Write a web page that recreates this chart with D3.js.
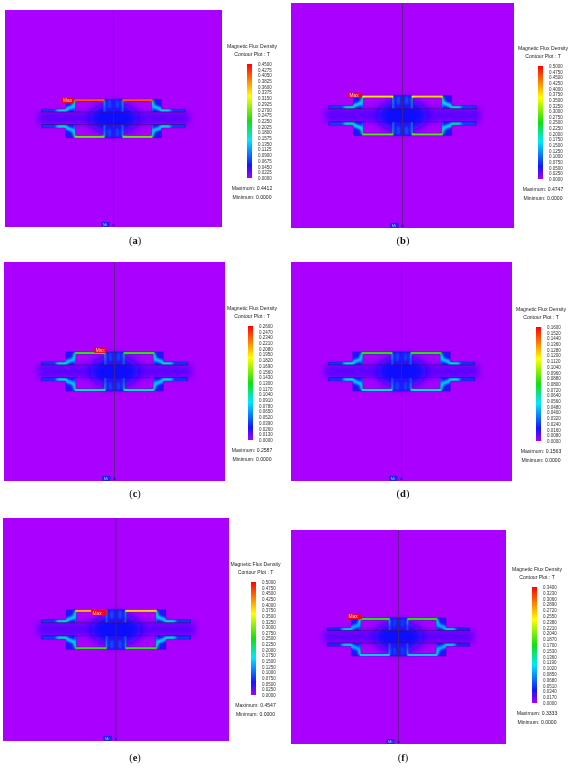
<!DOCTYPE html>
<html lang="en">
<head>
<meta charset="UTF-8">
<title>Magnetic Flux Density</title>
<script src="https://d3js.org/d3.v7.min.js"></script>
<style>
  html, body { margin: 0; padding: 0; background: #fff; }
  svg { display: block; filter: blur(0.3px); }
  text { font-family: "Liberation Sans", Arial, sans-serif; fill: #222; }
  .axis text { font-size: 4.5px; fill: #333; }
  .caption { font-family: "Liberation Serif", serif; font-size: 10.5px; fill: #111; }
</style>
</head>
<body>
<div id="chart"></div>
<script>
// ---- values ----
const panelNames = ["a", "b", "c", "d", "e", "f"];
const ticksA = [0.45, 0.4275, 0.405, 0.3825, 0.36, 0.3375, 0.315, 0.2925, 0.27, 0.2475, 0.225, 0.2025, 0.18, 0.1575, 0.135, 0.1125, 0.09, 0.0675, 0.045, 0.0225, 0];
const ticksB = [0.5, 0.475, 0.45, 0.425, 0.4, 0.375, 0.35, 0.325, 0.3, 0.275, 0.25, 0.225, 0.2, 0.175, 0.15, 0.125, 0.1, 0.075, 0.05, 0.025, 0];
const ticksC = [0.26, 0.247, 0.234, 0.221, 0.208, 0.195, 0.182, 0.169, 0.156, 0.143, 0.13, 0.117, 0.104, 0.091, 0.078, 0.065, 0.052, 0.039, 0.026, 0.013, 0];
const ticksD = [0.16, 0.152, 0.144, 0.136, 0.128, 0.12, 0.112, 0.104, 0.096, 0.088, 0.08, 0.072, 0.064, 0.056, 0.048, 0.04, 0.032, 0.024, 0.016, 0.008, 0];
const ticksE = ticksB;
const ticksF = [0.34, 0.323, 0.306, 0.289, 0.272, 0.255, 0.238, 0.221, 0.204, 0.187, 0.17, 0.153, 0.136, 0.119, 0.102, 0.085, 0.068, 0.051, 0.034, 0.017, 0];
const panelTicks = [ticksA, ticksB, ticksC, ticksD, ticksE, ticksF];
const maximums = [0.4412, 0.4747, 0.2587, 0.1563, 0.4547, 0.3333];
const minimums = [0, 0, 0, 0, 0, 0];

// flux in the core, tesla: left and right top bar, bottom bar, legs
const topLeftFlux = [0.41, 0.37, 0.14, 0.085, 0.40, 0.18];
const topRightFlux = [0.41, 0.38, 0.14, 0.085, 0.385, 0.18];
const bottomFlux = [0.26, 0.28, 0.095, 0.056, 0.26, 0.105];
const legFlux = [0.17, 0.20, 0.095, 0.058, 0.19, 0.115];

// colour map stops: fraction of the legend, colour
const mapStops = [0, 0.11, 0.33, 0.5, 0.72, 1];
const mapColours = ["#a800ff", "#1414ff", "#00e8ff", "#10e010", "#ffff00", "#ff0000"];

// core outline in model units, the plot is 217 units across
const upperCore = [[-72,-9.5],[-48,-9.5],[-48,-19.5],[48,-19.5],[48,-9.5],[72,-9.5],[72,-6.5],[38,-6.5],[38,-17],[10,-17],[10,-6.5],[-10,-6.5],[-10,-17],[-38,-17],[-38,-6.5],[-72,-6.5]];
const lowerCore = [[-72,6],[-38,6],[-38,17],[-10,17],[-10,6],[10,6],[10,17],[38,17],[38,6],[72,6],[72,9.5],[48,9.5],[48,19.5],[-48,19.5],[-48,9.5],[-72,9.5]];
// brighter flux paths in the right upper quarter, mirrored to the others: x1,y1,x2,y2,share of leg flux
const streaks = [[38.5,-17,40,-12,1.1],[40,-12,47,-9.5,0.85],[48,-8,58,-8,0.95],[58,-8,70,-8,0.4],[10.5,-17,10.5,-12,1.1],[10.5,-12,10.5,-7,0.65],[37.5,-12,37.5,-7,0.55],[4,-17,4,-12,0.45]];

// ---- layout ----
const plots = [[5,222,10,227],[291,514,3,228],[4,225,262,481],[291,512,262,481],[3,229,518,741],[291,506,530,744]];
const bars = [[247,64,178],[538,66,179],[248,326,440],[536,327,441],[251,582,695],[532,587,703]];
const titleX = [252, 543, 252, 541, 255.5, 537];
const captions = [[135,244],[403,244],[135,497],[403,497],[135,761],[403,761]];
// Max label box in model units, null where no label shows
const maxBoxes = [[-52,-40,-20.5,-15],[-53,-40,-22,-17],[-20,-8,-24,-18.5],null,[-24,-9,-19,-13.5],[-52,-37,-23,-18]];
const modelHalf = 108.5;

const svg = d3.select("#chart").append("svg").attr("width", 570).attr("height", 768);
const defs = svg.append("defs");
const addBlur = (id, s) => defs.append("filter").attr("id", id)
    .attr("x", "-30%").attr("y", "-60%").attr("width", "160%").attr("height", "220%")
    .append("feGaussianBlur").attr("stdDeviation", s);
addBlur("soft", 1);
addBlur("glow", 3);
addBlur("wide", 5);

const colourAt = d3.scaleLinear().domain(mapStops).range(mapColours).clamp(true);
const grad = defs.append("linearGradient").attr("id", "legendRamp")
    .attr("x1", 0).attr("y1", 1).attr("x2", 0).attr("y2", 0);
mapStops.forEach((s, i) => grad.append("stop").attr("offset", s).attr("stop-color", mapColours[i]));

panelNames.forEach((name, i) => {
  const [x0, x1, y0, y1] = plots[i];
  const x = d3.scaleLinear().domain([-modelHalf, modelHalf]).range([x0, x1]);
  const y = d3.scaleLinear().domain([-modelHalf, modelHalf]).range([y0, y1]);
  const ticks = panelTicks[i];
  const top = d3.max(ticks);
  const fluxColour = v => colourAt(v / top);
  const g = svg.append("g");

  // background
  g.append("rect").attr("x", x0).attr("y", y0).attr("width", x1 - x0).attr("height", y1 - y0)
      .attr("fill", "#aa00ff");

  // leakage between the two halves
  g.append("rect").attr("x", x(-76)).attr("y", y(-6.5)).attr("width", x(76) - x(-76)).attr("height", y(6) - y(-6.5))
      .attr("fill", "#5c00ff").attr("filter", "url(#glow)");
  g.append("ellipse").attr("cx", x(0)).attr("cy", y(0)).attr("rx", x(24) - x(0)).attr("ry", y(15) - y(0))
      .attr("fill", "#1010ff").attr("filter", "url(#wide)");

  // core halves
  const line = d3.line().x(d => x(d[0])).y(d => y(d[1])).curve(d3.curveLinearClosed);
  [upperCore, lowerCore].forEach((poly, k) => {
    const clipId = `core-${name}-${k}`;
    defs.append("clipPath").attr("id", clipId).append("path").attr("d", line(poly));
    const half = g.append("g").attr("clip-path", `url(#${clipId})`);
    half.append("rect").attr("x", x(-72)).attr("y", y(-20)).attr("width", x(72) - x(-72)).attr("height", y(20) - y(-20))
        .attr("fill", colourAt(0.1));
    const flip = k === 0 ? 1 : -1;
    const streakG = half.append("g").attr("filter", "url(#soft)");
    [-1, 1].forEach(side => {
      streaks.forEach(([a, b, c, d, share]) => {
        streakG.append("line")
            .attr("x1", x(side * a)).attr("y1", y(flip * b))
            .attr("x2", x(side * c)).attr("y2", y(flip * d))
            .attr("stroke", fluxColour(legFlux[i] * share))
            .attr("stroke-width", 3.4).attr("stroke-linecap", "round");
      });
    });
    // top and bottom bars carry the peak flux
    [-1, 1].forEach(side => {
      const v = k === 1 ? bottomFlux[i] : (side < 0 ? topLeftFlux[i] : topRightFlux[i]);
      const yA = k === 0 ? -19.5 : 17;
      const xs = side < 0 ? [-39, -9] : [9, 39];
      half.append("rect").attr("x", x(xs[0])).attr("y", y(yA))
          .attr("width", x(xs[1]) - x(xs[0])).attr("height", y(2.5) - y(0))
          .attr("fill", fluxColour(v));
    });
  });

  // outlines
  [upperCore, lowerCore].forEach(poly => {
    g.append("path").attr("d", line(poly)).attr("fill", "none")
        .attr("stroke", "#3a1070").attr("stroke-width", 0.3).attr("stroke-opacity", 0.7);
  });
  [-6.5, 6].forEach(v => {
    g.append("line").attr("x1", x(-72)).attr("x2", x(72)).attr("y1", y(v)).attr("y2", y(v))
        .attr("stroke", "#3a1070").attr("stroke-width", 0.5);
  });
  g.append("line").attr("x1", x(0)).attr("x2", x(0)).attr("y1", y0).attr("y2", y1)
      .attr("stroke", "#4a2a60").attr("stroke-width", 0.7);

  // Max and Min labels
  if (maxBoxes[i]) {
    const [a, b, c, d] = maxBoxes[i];
    g.append("rect").attr("x", x(a)).attr("y", y(c)).attr("width", x(b) - x(a)).attr("height", y(d) - y(c))
        .attr("fill", "#f2001c");
    g.append("text").attr("x", x(a) + 1.5).attr("y", y((c + d) / 2) + 1.7)
        .attr("font-size", 4.8).style("fill", "#ffd0d0").text("Max");
  }
  g.append("rect").attr("x", x(-12)).attr("y", y(103.5)).attr("width", x(-4) - x(-12)).attr("height", y(108.5) - y(103.5))
      .attr("fill", "#2222ee");
  g.append("text").attr("x", x(-10.5)).attr("y", y(107.4)).attr("font-size", 4).style("fill", "#c0c0ff").text("Mi");
  g.append("circle").attr("cx", x(0)).attr("cy", y(106.5)).attr("r", 1.2).attr("fill", "#1010d0");

  // legend
  const [barX, barTop, barBottom] = bars[i];
  const barW = 5;
  const cx = titleX[i];
  g.append("text").attr("x", cx).attr("y", barTop - 16.3).attr("text-anchor", "middle")
      .attr("font-size", 5.1).text("Magnetic Flux Density");
  g.append("text").attr("x", cx).attr("y", barTop - 8.3).attr("text-anchor", "middle")
      .attr("font-size", 5.1).text("Contour Plot : T");
  g.append("rect").attr("x", barX).attr("y", barTop).attr("width", barW).attr("height", barBottom - barTop)
      .attr("fill", "url(#legendRamp)");
  const scale = d3.scaleLinear().domain([0, top]).range([barBottom, barTop]);
  const axis = g.append("g").attr("class", "axis").attr("transform", `translate(${barX + barW},0)`)
      .call(d3.axisRight(scale).tickValues(ticks).tickFormat(d3.format(".4f")).tickSize(0).tickPadding(6));
  axis.select(".domain").remove();
  g.append("text").attr("x", cx).attr("y", barBottom + 11.5).attr("text-anchor", "middle")
      .attr("font-size", 5.1).text(`Maximum: ${maximums[i].toFixed(4)}`);
  g.append("text").attr("x", cx).attr("y", barBottom + 20.5).attr("text-anchor", "middle")
      .attr("font-size", 5.1).text(`Minimum: ${minimums[i].toFixed(4)}`);

  // caption
  const cap = g.append("text").attr("class", "caption")
      .attr("x", captions[i][0]).attr("y", captions[i][1]).attr("text-anchor", "middle");
  cap.append("tspan").text("(");
  cap.append("tspan").attr("font-weight", "bold").text(name);
  cap.append("tspan").text(")");
});
</script>
</body>
</html>
